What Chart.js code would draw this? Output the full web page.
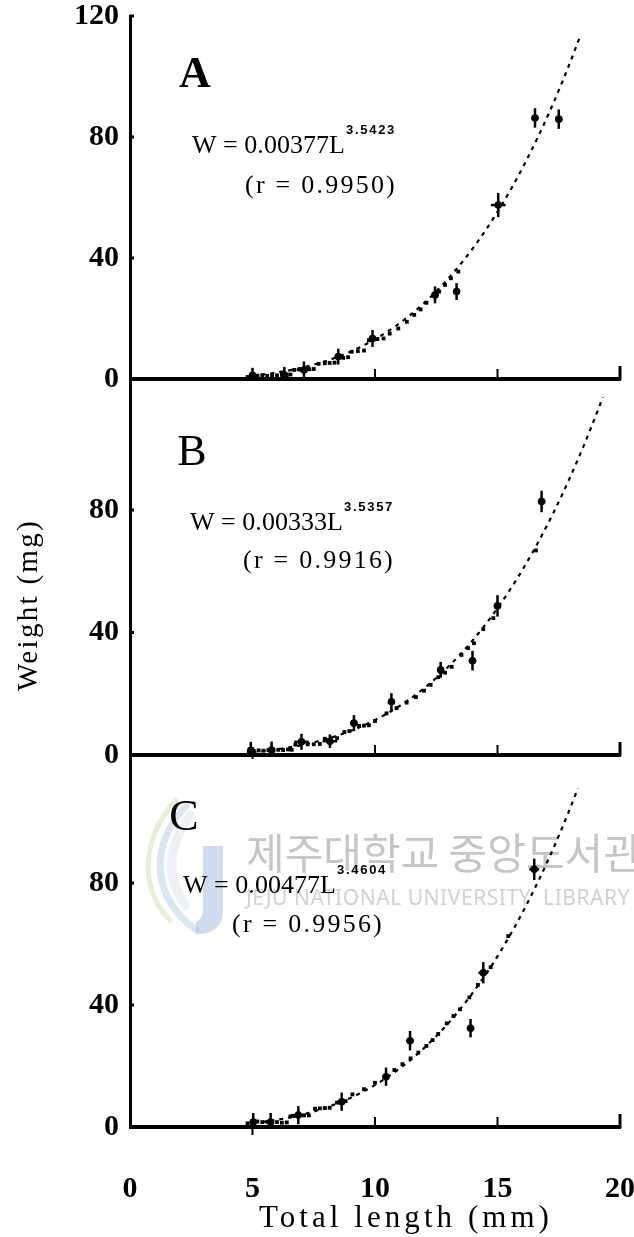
<!DOCTYPE html>
<html>
<head>
<meta charset="utf-8">
<title>Length–weight relationship</title>
<script src="https://cdn.jsdelivr.net/npm/chart.js@4.4.0/dist/chart.umd.min.js"></script>
<style>
  html, body { margin: 0; padding: 0; background: #fff; }
  #wrap { position: relative; width: 634px; height: 1237px; }
  canvas { display: block; }
</style>
</head>
<body>
<div id="wrap"><canvas id="lw" width="634" height="1237"></canvas></div>
<script>
// ---- axis ticks ----
const lengthTicks = [0, 5, 10, 15, 20];
const weightTicksTop = [0, 40, 80, 120];
const weightTicksLower = [0, 40, 80];

// ---- regression W = a * L^b for each panel ----
const panelNames = ['A', 'B', 'C'];
const fitCoef = [0.00377, 0.00333, 0.00477];
const fitExp = [3.5423, 3.5357, 3.4604];
const fitR = ['0.9950', '0.9916', '0.9956'];
const fitFrom = [5.0, 5.0, 5.0];
const fitTo = [18.4, 19.3, 18.28];

// ---- panel A: individual fish (length mm, weight mg) ----
const aDotL = [4.8, 5.0, 5.2, 5.4, 5.6, 5.8, 6.0, 6.2, 6.4, 6.55, 6.7, 6.95, 7.3, 7.5, 7.7, 7.95, 8.15, 8.35, 8.7, 8.9, 9.05, 9.3, 9.55, 9.75, 10.1, 10.35, 10.6, 10.95, 11.3, 11.6, 11.86, 12.1, 12.62, 12.86, 13.1, 13.4];
const aDotW = [0.7, 1.0, 1.1, 1.2, 1.0, 1.3, 1.2, 1.4, 1.3, 1.5, 3.0, 3.1, 3.3, 3.3, 5.0, 5.2, 5.3, 5.4, 7.0, 7.2, 9.0, 9.2, 9.4, 12.8, 13.2, 13.4, 15.0, 16.7, 18.9, 21.2, 23.0, 25.2, 28.9, 31.1, 33.3, 35.5];
// panel A: means with error bars
const aBarL = [5.0, 6.3, 7.1, 8.5, 9.9, 12.45, 13.33, 15.03, 16.53, 17.5];
const aBarW = [1.2, 1.4, 3.0, 7.4, 13.4, 27.8, 28.9, 57.5, 86.3, 85.9];
const aSdL = [0, 0, 0.3, 0.15, 0.15, 0.15, 0.1, 0.3, 0.15, 0.15];
const aSdW = [2.5, 2.6, 2.8, 2.6, 2.8, 2.8, 2.8, 4.0, 3.2, 3.2];

// ---- panel B ----
const bDotL = [4.85, 5.05, 5.25, 5.45, 5.65, 5.85, 6.05, 6.25, 6.45, 6.6, 6.75, 7.25, 7.5, 7.75, 7.95, 8.2, 8.45, 8.75, 8.95, 9.35, 9.55, 9.75, 10.0, 10.47, 10.88, 11.29, 11.67, 12.0, 12.27, 12.58, 12.86, 13.13, 13.53, 13.8, 14.04, 14.42, 14.83, 16.57];
const bDotW = [1.0, 1.3, 1.5, 1.4, 1.6, 1.5, 1.7, 1.6, 1.8, 1.7, 3.4, 3.5, 3.5, 3.6, 5.3, 5.4, 5.5, 7.5, 7.8, 9.5, 9.6, 9.7, 11.1, 13.6, 15.3, 17.1, 18.9, 21.0, 22.9, 25.4, 26.9, 28.8, 32.7, 34.9, 36.5, 41.1, 44.7, 66.8];
const bBarL = [4.93, 5.78, 7.0, 8.16, 9.14, 10.67, 12.68, 13.98, 15.0, 16.8];
const bBarW = [1.5, 1.6, 4.3, 4.5, 10.4, 17.4, 27.8, 30.8, 48.7, 82.8];
const bSdL = [0, 0, 0.3, 0.3, 0.15, 0.1, 0.1, 0.15, 0.15, 0.15];
const bSdW = [2.8, 2.8, 2.6, 2.2, 2.6, 2.8, 2.6, 3.2, 3.5, 3.5];

// ---- panel C ----
const cDotL = [4.8, 5.0, 5.2, 5.4, 5.6, 5.8, 6.0, 6.2, 6.4, 6.55, 6.7, 7.1, 7.3, 7.55, 7.75, 7.95, 8.15, 8.45, 8.8, 9.08, 9.55, 10.0, 10.79, 11.12, 11.45, 11.77, 12.1, 12.35, 12.58, 12.93, 13.2, 13.47, 13.85, 14.2, 14.72, 15.44];
const cDotW = [1.2, 1.5, 1.8, 1.6, 1.7, 1.5, 1.6, 1.4, 1.5, 3.5, 3.6, 3.8, 3.8, 6.0, 6.1, 6.2, 6.3, 8.0, 8.5, 10.7, 12.4, 14.5, 18.7, 20.6, 22.5, 24.4, 26.6, 28.5, 30.5, 34.0, 36.4, 38.6, 42.5, 46.6, 52.4, 62.6];
const cBarL = [5.03, 5.74, 6.87, 8.64, 10.45, 11.43, 13.9, 14.42, 16.5];
const cBarW = [1.6, 1.6, 3.9, 8.3, 16.5, 28.3, 32.4, 50.6, 84.5];
const cSdL = [0, 0, 0.3, 0.15, 0.15, 0.15, 0.15, 0.2, 0.2];
const cSdW = [3.0, 3.0, 3.0, 3.0, 3.0, 3.2, 3.0, 3.5, 3.5];

// ---- layout helpers ----
const axisIds = ['yA', 'yB', 'yC'];
const SERIF = "'Liberation Serif', 'DejaVu Serif', serif";

const zip = (xs, ys) => xs.map((x, i) => ({ x, y: ys[i] }));

function fitCurve(i) {
  const pts = [];
  const n = Math.round((fitTo[i] - fitFrom[i]) / 0.05);
  for (let k = 0; k <= n; k++) {
    const L = fitFrom[i] + (fitTo[i] - fitFrom[i]) * k / n;
    pts.push({ x: L, y: fitCoef[i] * Math.pow(L, fitExp[i]) });
  }
  return pts;
}

const panels = [
  { dotL: aDotL, dotW: aDotW, barL: aBarL, barW: aBarW, sdL: aSdL, sdW: aSdW },
  { dotL: bDotL, dotW: bDotW, barL: bBarL, barW: bBarW, sdL: bSdL, sdW: bSdW },
  { dotL: cDotL, dotW: cDotW, barL: cBarL, barW: cBarW, sdL: cSdL, sdW: cSdW }
];

const datasets = [];
panels.forEach((p, i) => {
  datasets.push({
    label: 'fit ' + panelNames[i], data: fitCurve(i), yAxisID: axisIds[i],
    showLine: true, borderColor: '#000', borderWidth: 2.2, borderDash: [4, 5],
    pointRadius: 0, fill: false, tension: 0
  });
  datasets.push({
    label: 'fish ' + panelNames[i], data: zip(p.dotL, p.dotW), yAxisID: axisIds[i],
    pointStyle: 'rect', pointRadius: 2.7, backgroundColor: '#000', borderWidth: 0
  });
  datasets.push({
    label: 'mean ' + panelNames[i], data: zip(p.barL, p.barW), yAxisID: axisIds[i],
    pointStyle: 'circle', pointRadius: 3.8, backgroundColor: '#000', borderWidth: 0,
    errX: p.sdL, errY: p.sdW
  });
});

function weightAxis(max, weight, stackWeight, tickVals) {
  return {
    type: 'linear', position: 'left', stack: 'panels', stackWeight, weight,
    min: 0, max,
    afterBuildTicks: s => { s.ticks = tickVals.map(v => ({ value: v })); },
    afterFit: s => { s.width = 130; s.paddingTop = 0; s.paddingBottom = 0; },
    grid: { display: false, drawTicks: false },
    border: { display: true, color: '#000', width: 3 },
    ticks: { color: '#000', font: { family: SERIF, size: 30, weight: 'bold' }, padding: 11 }
  };
}

// text drawn with spacing stretched to a given width
function spacedText(ctx, text, x, y, width, font, align) {
  ctx.font = font;
  ctx.letterSpacing = '0px';
  const natural = ctx.measureText(text).width;
  const ls = (width - natural) / text.length;
  ctx.letterSpacing = ls.toFixed(2) + 'px';
  ctx.textBaseline = 'middle';
  ctx.textAlign = 'left';
  const x0 = align === 'center' ? x - width / 2 : x;
  ctx.fillText(text, x0, y);
  ctx.letterSpacing = '0px';
}

// panel letters and regression labels (pixel positions)
const letterX = [195, 192, 184];
const letterY = [76, 453, 818];
const eqX = [192, 190, 183];
const eqY = [146, 523, 886];
const rX = [245, 243, 232];
const rY = [186, 561, 925];

const framePlugin = {
  id: 'frame',
  beforeDatasetsDraw(chart) {
    const ctx = chart.ctx;
    const xs = chart.scales.x;
    ctx.save();

    // library watermark
    ctx.globalAlpha = 0.55;
    ctx.lineCap = 'round';
    ctx.strokeStyle = '#bcd3e6'; ctx.lineWidth = 7;
    ctx.beginPath(); ctx.moveTo(186, 806); ctx.bezierCurveTo(150, 845, 150, 895, 196, 930); ctx.stroke();
    ctx.strokeStyle = '#cfe3b5'; ctx.lineWidth = 5;
    ctx.beginPath(); ctx.moveTo(176, 800); ctx.bezierCurveTo(140, 840, 140, 890, 170, 920); ctx.stroke();
    ctx.strokeStyle = '#dfe6ee'; ctx.lineWidth = 9;
    ctx.beginPath(); ctx.moveTo(190, 815); ctx.bezierCurveTo(165, 850, 168, 880, 185, 905); ctx.stroke();
    ctx.fillStyle = '#a9bde0';
    ctx.beginPath(); ctx.moveTo(203, 846); ctx.lineTo(223, 846); ctx.lineTo(223, 912);
    ctx.quadraticCurveTo(222, 934, 196, 934); ctx.lineTo(196, 922); ctx.quadraticCurveTo(203, 920, 203, 905);
    ctx.closePath(); ctx.fill();
    ctx.globalAlpha = 1;
    ctx.fillStyle = '#c6c6c6';
    ctx.textBaseline = 'middle'; ctx.textAlign = 'left';
    ctx.font = "42px 'Noto Sans CJK KR', sans-serif";
    ctx.fillText('제주대학교 중앙도서관', 246, 853);
    ctx.fillStyle = '#d2d2d2';
    spacedText(ctx, 'JEJU NATIONAL UNIVERSITY  LIBRARY', 246, 899, 384, "21px 'Noto Sans', sans-serif", 'left');

    ctx.strokeStyle = '#000';
    ctx.lineCap = 'butt';
    axisIds.forEach((id, i) => {
      const ys = chart.scales[id];
      const y0 = ys.getPixelForValue(0);
      // panel baseline
      ctx.lineWidth = 4;
      ctx.beginPath(); ctx.moveTo(xs.left - 1, y0); ctx.lineTo(xs.right + 1, y0); ctx.stroke();
      // inner ticks on the length axis
      ctx.lineWidth = 2;
      [10, 15].forEach(v => {
        const px = xs.getPixelForValue(v);
        ctx.beginPath(); ctx.moveTo(px, y0); ctx.lineTo(px, y0 - 10); ctx.stroke();
      });
      ctx.lineWidth = 3;
      const pr = xs.getPixelForValue(20);
      ctx.beginPath(); ctx.moveTo(pr, y0 + 1); ctx.lineTo(pr, y0 - 13); ctx.stroke();
      if (i > 0) {
        const p5 = xs.getPixelForValue(5);
        ctx.lineWidth = 2;
        ctx.beginPath(); ctx.moveTo(p5, y0 + (i === 2 ? 8 : 4)); ctx.lineTo(p5, y0 - 8); ctx.stroke();
      }
      // inner ticks on the weight axis
      ctx.lineWidth = 3;
      (i === 0 ? weightTicksTop : weightTicksLower).forEach(v => {
        if (v === 0) return;
        const py = ys.getPixelForValue(v);
        ctx.beginPath(); ctx.moveTo(xs.left, py); ctx.lineTo(xs.left + 4, py); ctx.stroke();
      });
    });
    ctx.restore();
  },
  afterDatasetsDraw(chart) {
    const ctx = chart.ctx;
    const xs = chart.scales.x;
    ctx.save();
    ctx.strokeStyle = '#000';
    ctx.lineWidth = 2.5;
    // error bars
    chart.data.datasets.forEach(ds => {
      if (!ds.errY) return;
      const ys = chart.scales[ds.yAxisID];
      ds.data.forEach((pt, k) => {
        const px = xs.getPixelForValue(pt.x);
        const py = ys.getPixelForValue(pt.y);
        const yLo = ys.getPixelForValue(Math.max(pt.y - ds.errY[k], 0));
        const yHi = ys.getPixelForValue(pt.y + ds.errY[k]);
        ctx.beginPath(); ctx.moveTo(px, yLo); ctx.lineTo(px, yHi); ctx.stroke();
        if (ds.errX[k] > 0) {
          const xLo = xs.getPixelForValue(pt.x - ds.errX[k]);
          const xHi = xs.getPixelForValue(pt.x + ds.errX[k]);
          ctx.beginPath(); ctx.moveTo(xLo, py); ctx.lineTo(xHi, py); ctx.stroke();
        }
      });
    });

    // panel letters and regression equations
    ctx.fillStyle = '#000';
    panelNames.forEach((name, i) => {
      ctx.textBaseline = 'middle'; ctx.textAlign = 'center';
      ctx.font = (i === 0 ? 'bold ' : '') + '44px ' + SERIF;
      ctx.fillText(name, letterX[i], letterY[i]);
      const main = 'W = ' + fitCoef[i].toFixed(5) + 'L';
      spacedText(ctx, main, eqX[i], eqY[i], 153, '26px ' + SERIF, 'left');
      spacedText(ctx, fitExp[i].toFixed(4), eqX[i] + 154, eqY[i] - 16, 50, "bold 13px 'Liberation Sans', sans-serif", 'left');
      spacedText(ctx, '(r = ' + fitR[i] + ')', rX[i], rY[i], 152, '26px ' + SERIF, 'left');
    });
    ctx.restore();
  },
  afterDraw(chart) {
    const ctx = chart.ctx;
    ctx.save();
    ctx.fillStyle = '#000';
    // axis titles
    spacedText(ctx, 'Total length (mm)', 406, 1219, 294, '31px ' + SERIF, 'center');
    ctx.translate(29, 605);
    ctx.rotate(-Math.PI / 2);
    spacedText(ctx, 'Weight (mg)', 0, 0, 172, '29px ' + SERIF, 'center');
    ctx.restore();
  }
};

new Chart(document.getElementById('lw'), {
  type: 'scatter',
  data: { datasets },
  options: {
    responsive: false,
    animation: false,
    devicePixelRatio: 1,
    layout: { padding: { left: 0, right: 14, top: 16, bottom: 0 } },
    plugins: { legend: { display: false }, tooltip: { enabled: false } },
    scales: {
      x: {
        type: 'linear', position: 'bottom', min: 0, max: 20,
        afterBuildTicks: s => { s.ticks = lengthTicks.map(v => ({ value: v })); },
        afterFit: s => { s.height = 110; s.paddingLeft = 0; s.paddingRight = 0; },
        grid: { display: false, drawTicks: false },
        border: { display: false },
        ticks: { color: '#000', font: { family: SERIF, size: 30, weight: 'bold' }, padding: 44, maxRotation: 0 }
      },
      yA: weightAxis(120, 3, 363, weightTicksTop),
      yB: weightAxis(122.8, 2, 376, weightTicksLower),
      yC: weightAxis(122.0, 1, 372, weightTicksLower)
    }
  },
  plugins: [framePlugin]
});
</script>
</body>
</html>
